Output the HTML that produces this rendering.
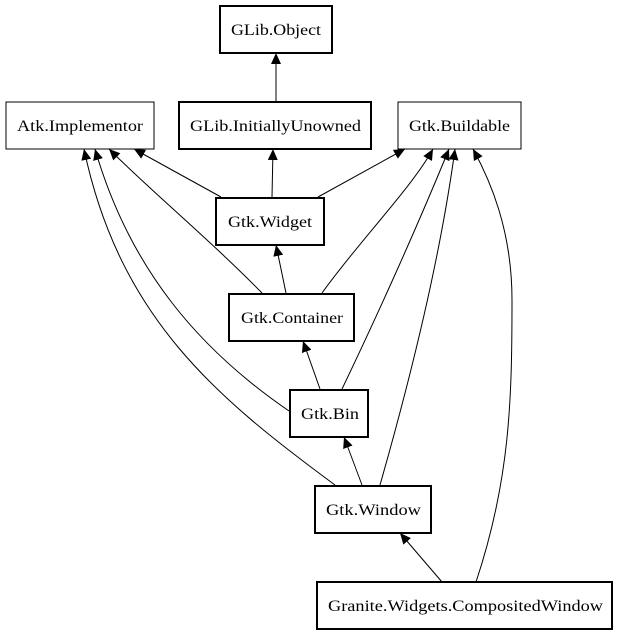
<!DOCTYPE html>
<html><head><meta charset="utf-8"><style>
body{margin:0;background:#fff;}
svg{display:block;}
text{font-family:"Liberation Serif",serif;font-size:16px;fill:#000;}
</style></head><body>
<svg width="617" height="635" viewBox="0 0 617 635" xmlns="http://www.w3.org/2000/svg">
<defs>
<marker id="a" markerWidth="12" markerHeight="12" refX="11" refY="5.5" orient="auto" markerUnits="userSpaceOnUse">
<path d="M0,0.5 L11,5.5 L0,10.5 z" fill="#000"/>
</marker>
</defs>
<g fill="none" stroke="#000" stroke-width="1" marker-end="url(#a)">
<path d="M276,101 L276,53"/>
<path d="M272,197 L273,149"/>
<path d="M221,197 L134,149"/>
<path d="M318,197 L405,149"/>
<path d="M286,293 L276,245"/>
<path d="M262,293 C210,240 150,190 109,149"/>
<path d="M322,293 C360,240 410,190 433,149"/>
<path d="M320,389 L303,341"/>
<path d="M289,411 C200,350 130,270 95,149"/>
<path d="M342,389 C380,310 420,220 449,149"/>
<path d="M362,485 L344,437"/>
<path d="M335,485 C220,400 120,320 84,149"/>
<path d="M380,485 C410,380 440,260 455,149"/>
<path d="M442,582 L400,533"/>
<path d="M476,582 C510,480 512,400 512,300 C512,230 490,180 473,149"/>
</g>
<g fill="#fff" stroke="#000">
<rect x="220" y="6" width="112" height="47" stroke-width="2"/>
<rect x="6" y="102" width="148" height="47" stroke-width="1"/>
<rect x="179" y="102" width="192" height="47" stroke-width="2"/>
<rect x="398" y="102" width="123" height="47" stroke-width="1"/>
<rect x="216" y="198" width="108" height="47" stroke-width="2"/>
<rect x="229" y="294" width="125" height="47" stroke-width="2"/>
<rect x="290" y="390" width="78" height="47" stroke-width="2"/>
<rect x="315" y="486" width="116" height="47" stroke-width="2"/>
<rect x="317" y="582" width="295" height="47" stroke-width="2"/>
</g>
<g lengthAdjust="spacingAndGlyphs">
<text x="231" y="35" textLength="90" lengthAdjust="spacingAndGlyphs">GLib.Object</text>
<text x="17" y="131" textLength="126" lengthAdjust="spacingAndGlyphs">Atk.Implementor</text>
<text x="190" y="131" textLength="171" lengthAdjust="spacingAndGlyphs">GLib.InitiallyUnowned</text>
<text x="409" y="131" textLength="101" lengthAdjust="spacingAndGlyphs">Gtk.Buildable</text>
<text x="228" y="227" textLength="84" lengthAdjust="spacingAndGlyphs">Gtk.Widget</text>
<text x="241" y="323" textLength="102" lengthAdjust="spacingAndGlyphs">Gtk.Container</text>
<text x="301" y="419" textLength="58" lengthAdjust="spacingAndGlyphs">Gtk.Bin</text>
<text x="326" y="515" textLength="95" lengthAdjust="spacingAndGlyphs">Gtk.Window</text>
<text x="328" y="611" textLength="275" lengthAdjust="spacingAndGlyphs">Granite.Widgets.CompositedWindow</text>
</g>
</svg>
</body></html>
